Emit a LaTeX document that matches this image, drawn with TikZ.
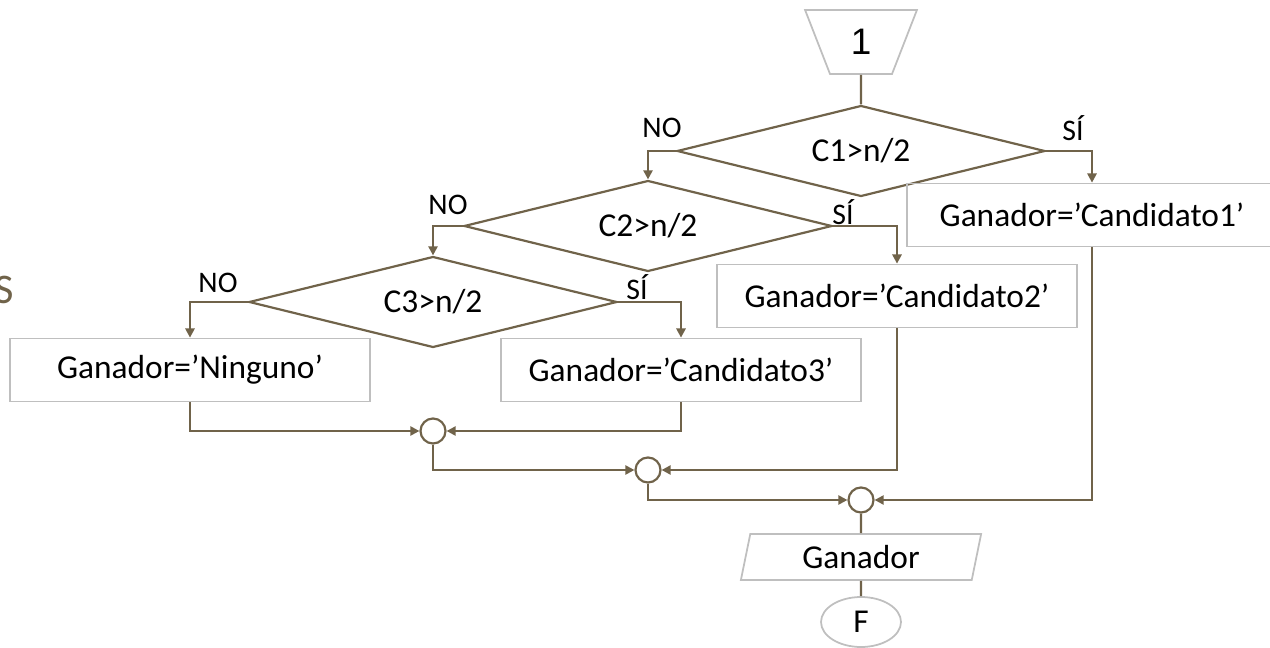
\documentclass[tikz,border=0pt]{standalone}
\usepackage{fontspec}
\setmainfont{Carlito}
\newfontfamily\arialfont{Liberation Sans}
\usetikzlibrary{arrows.meta,shapes.geometric}
\definecolor{linea}{RGB}{112,99,74}
\definecolor{borde}{RGB}{191,191,191}

\begin{document}
\begin{tikzpicture}[x=0.02cm,y=-0.02cm,
		flujo/.style={draw=linea, line width=1.25pt},
		flecha/.style={flujo, -{Triangle[length=5.2pt,width=5.2pt]}},
		caja/.style={draw=borde, line width=1pt, minimum width=7.2cm, minimum height=1.26cm, inner sep=0pt, font=\fontsize{19}{22}\selectfont},
		rombo/.style={diamond, draw=linea, line width=1.25pt, aspect=4, inner sep=0pt, minimum width=7.36cm, minimum height=1.82cm, font=\fontsize{19}{22}\selectfont},
		union/.style={circle, draw=linea, line width=1.25pt, minimum size=0.5cm, inner sep=0pt},
		etiq/.style={font=\fontsize{17}{20}\selectfont}]
			\useasboundingbox (0,0) rectangle (1270,648);
			% start and decisions
			\node[trapezium, trapezium stretches=true, shape border rotate=180, trapezium left angle=72, trapezium right angle=72, draw=borde, line width=1pt, minimum width=2.24cm, minimum height=1.28cm, inner sep=0pt, font=\arialfont\fontsize{21}{24}\selectfont] (ini) at (861,42) {1};
			\node[rombo] (d1) at (861,151) {C1>n/2};
			\node[rombo] (d2) at (648,226) {C2>n/2};
			\node[rombo] (d3) at (433,302) {C3>n/2};
			% results
			\node[caja, minimum width=7.4cm] (b1) at (1092,215) {Ganador=’Candidato1’};
			\node[caja] (b2) at (897,296) {Ganador=’Candidato2’};
			\node[caja] (b3) at (681,370) {Ganador=’Candidato3’};
			\node[caja] (bn) at (190,370) {Ganador=’Ninguno’};
			% joins
			\node[union] (c1) at (433,431) {};
			\node[union] (c2) at (648,470) {};
			\node[union] (c3) at (861,500) {};
			\node[trapezium, trapezium stretches=true, trapezium left angle=78, trapezium right angle=102, draw=borde, line width=1pt, minimum width=4.84cm, minimum height=0.92cm, inner sep=0pt, font=\fontsize{19}{22}\selectfont] (sal) at (861,557) {Ganador};
			\node[ellipse, draw=borde, line width=1pt, minimum width=1.6cm, minimum height=1.0cm, inner sep=0pt, font=\fontsize{19}{22}\selectfont] (fin) at (861,622) {F};
			% branch labels
			\node[etiq] (no1) at (662,128) {NO};
			\node[etiq] (si1) at (1073,128) {SÍ};
			\node[etiq] (no2) at (448,205) {NO};
			\node[etiq] (si2) at (843,212) {SÍ};
			\node[etiq] (no3) at (218,283) {NO};
			\node[etiq] (si3) at (637,287) {SÍ};
			\node[text=linea, font=\fontsize{24}{28}\selectfont] (letra) at (4,290) {S};
			% connectors
			\draw[flujo] (ini.south) -- (d1.north);
			\draw[flecha] (d1.west) -| (d2.north);
			\draw[flecha] (d1.east) -| (b1.north);
			\draw[flecha] (d2.west) -| (d3.north);
			\draw[flecha] (d2.east) -| (b2.north);
			\draw[flecha] (d3.west) -| (bn.north);
			\draw[flecha] (d3.east) -| (b3.north);
			\draw[flecha] (bn.south) |- (c1.west);
			\draw[flecha] (b3.south) |- (c1.east);
			\draw[flecha] (c1.south) |- (c2.west);
			\draw[flecha] (b2.south) |- (c2.east);
			\draw[flecha] (c2.south) |- (c3.west);
			\draw[flecha] (b1.south) |- (c3.east);
			\draw[flujo] (c3.south) -- (sal.north);
			\draw[flujo] (sal.south) -- (fin.north);
		\end{tikzpicture}
\end{document}
